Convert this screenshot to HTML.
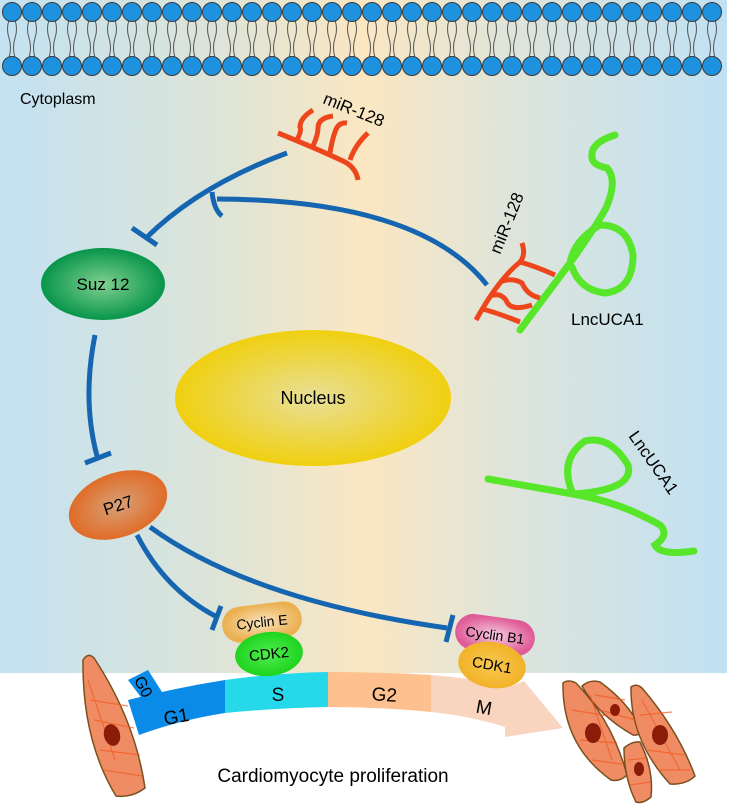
<!DOCTYPE html>
<html><head><meta charset="utf-8"><style>
html,body{margin:0;padding:0;background:#fff;}
svg{display:block;font-family:"Liberation Sans",Arial,sans-serif;}
</style></head><body>
<svg width="731" height="806" viewBox="0 0 731 806" xmlns="http://www.w3.org/2000/svg">
<defs>
<linearGradient id="bg" x1="0" y1="0" x2="1" y2="0">
<stop offset="0" stop-color="#c3e2f2"/><stop offset="0.3" stop-color="#dde4d8"/>
<stop offset="0.5" stop-color="#fbe7c2"/><stop offset="0.72" stop-color="#dce4dc"/>
<stop offset="1" stop-color="#c0e1f3"/></linearGradient>
<radialGradient id="nuc"><stop offset="0" stop-color="#e8df98"/><stop offset="1" stop-color="#f0d010"/></radialGradient>
<radialGradient id="suz"><stop offset="0" stop-color="#80d090"/><stop offset="1" stop-color="#07954a"/></radialGradient>
<radialGradient id="p27"><stop offset="0" stop-color="#d8a078"/><stop offset="1" stop-color="#e06c28"/></radialGradient>
<radialGradient id="ce"><stop offset="0" stop-color="#f8e4c0"/><stop offset="1" stop-color="#ebb050"/></radialGradient>
<radialGradient id="cdk2"><stop offset="0" stop-color="#50ec50"/><stop offset="1" stop-color="#1ed41e"/></radialGradient>
<radialGradient id="cb1"><stop offset="0" stop-color="#f6cce0"/><stop offset="1" stop-color="#e05c98"/></radialGradient>
<radialGradient id="cdk1"><stop offset="0" stop-color="#f8c850"/><stop offset="1" stop-color="#f2b228"/></radialGradient>
</defs>
<rect x="0" y="0" width="727" height="673" fill="url(#bg)"/>

<!-- connectors -->
<g stroke="#1565b0" stroke-width="5" fill="none" stroke-linecap="butt">
<path d="M287,153 Q200,185 147,237"/><path d="M132,228 L157,245"/>
<path d="M487,285 Q420,200 217,199"/><path d="M212,192 Q214,210 222,216"/>
<path d="M95,335 Q82,400 97,456"/><path d="M85,463 L111,453"/>
<path d="M137,535 Q165,590 217,617"/><path d="M221,606 L212,630"/>
<path d="M150,527 Q250,600 447,628"/><path d="M453,615 L446,642"/>
</g>

<!-- nucleus & nodes -->
<ellipse cx="313" cy="398" rx="138" ry="68" fill="url(#nuc)"/>
<text x="313" y="404" font-size="18" text-anchor="middle">Nucleus</text>
<ellipse cx="103" cy="284" rx="62" ry="36" fill="url(#suz)"/>
<text x="103" y="290" font-size="17" text-anchor="middle">Suz 12</text>
<ellipse cx="118" cy="505" rx="51" ry="32" fill="url(#p27)" transform="rotate(-20 118 505)"/>
<text x="118" y="511" font-size="17" text-anchor="middle" transform="rotate(-18 118 505)">P27</text>

<!-- miR-128 top -->
<g stroke="#ee461c" stroke-width="5" fill="none">
<path d="M278,133 Q320,150 345,162 Q356,168 358,180"/>
<path d="M297,140 Q302,130 300,127 Q300,118 313,110"/>
<path d="M313,146 Q318,135 318,128 Q318,118 333,116"/>
<path d="M330,153 Q332,140 335,132 Q338,122 347,123"/>
<path d="M350,160 Q355,145 368,133"/>
</g>
<text x="322" y="103" font-size="17" transform="rotate(22 322 103)">miR-128</text>

<!-- green Lnc top right -->
<g stroke="#58e62a" stroke-width="7" fill="none" stroke-linecap="round">
<path d="M520,330 L570,263 Q595,228 606,208 Q618,180 607,168 Q592,165 592,157 Q590,143 615,135"/>
<path d="M570,263 Q574,240 600,225 Q628,225 633,255 Q633,290 605,293 Q580,290 572,267"/>
</g>
<!-- miR-128 right -->
<g stroke="#ee461c" stroke-width="5" fill="none">
<path d="M476,320 Q498,280 520,262 Q526,255 522,243"/>
<path d="M520,262 Q535,266 555,275"/>
<path d="M500,282 Q512,277 522,283 Q527,295 540,298"/>
<path d="M490,296 Q500,292 506,300 Q510,312 532,305"/>
<path d="M482,309 Q495,312 520,322"/>
</g>
<text x="500" y="255" font-size="17" transform="rotate(-68 500 255)">miR-128</text>
<text x="571" y="325" font-size="17">LncUCA1</text>

<!-- green Lnc lower -->
<g stroke="#58e62a" stroke-width="7" fill="none" stroke-linecap="round">
<path d="M488,479 Q540,488 573,494 Q620,502 660,525 Q670,535 655,545 Q660,556 694,551"/>
<path d="M573,494 Q558,460 585,441 Q610,435 628,465 Q635,490 573,494"/>
</g>
<text x="628" y="436" font-size="17" transform="rotate(55 628 436)">LncUCA1</text>

<!-- cell cycle band -->
<polygon points="128,680 148,670 162,692 143,700" fill="#0a8be8"/>
<path d="M128,700 Q175,688 225,680 L225,713 Q180,720 139,735 Z" fill="#0a8be8"/>
<path d="M225,680 Q275,673 328,672 L328,707 Q275,708 225,713 Z" fill="#26d9ea"/>
<path d="M328,672 Q380,672 431,675 L431,712 Q380,707 328,707 Z" fill="#fdc08e"/>
<path d="M431,675 Q470,678 512,686 L524,681 L563,728 L505,737 L505,727 Q470,716 431,712 Z" fill="#f9d5c0"/>
<text x="143" y="687" font-size="16" transform="rotate(62 143 687)" text-anchor="middle" dy="5">G0</text>
<text x="176" y="723" font-size="19" text-anchor="middle" transform="rotate(-10 176 715)">G1</text>
<text x="278" y="701" font-size="19" text-anchor="middle">S</text>
<text x="384" y="701" font-size="19" text-anchor="middle" transform="rotate(4 384 700)">G2</text>
<text x="484" y="714" font-size="19" text-anchor="middle" transform="rotate(10 484 708)">M</text>
<text x="333" y="782" font-size="19" text-anchor="middle">Cardiomyocyte proliferation</text>

<!-- cyclins -->
<rect x="222" y="604" width="80" height="36" rx="18" fill="url(#ce)" transform="rotate(-7 262 622)"/>
<text x="262" y="627" font-size="14" text-anchor="middle" transform="rotate(-6 262 622)">Cyclin E</text>
<ellipse cx="269" cy="654" rx="34" ry="22" fill="url(#cdk2)" transform="rotate(-6 269 654)"/>
<text x="269" y="659" font-size="15" text-anchor="middle" transform="rotate(-6 269 654)">CDK2</text>
<rect x="455" y="617" width="80" height="36" rx="18" fill="url(#cb1)" transform="rotate(8 495 635)"/>
<text x="495" y="640" font-size="14" text-anchor="middle" transform="rotate(8 495 635)">Cyclin B1</text>
<ellipse cx="492" cy="665" rx="34" ry="23" fill="url(#cdk1)" transform="rotate(10 492 665)"/>
<text x="492" y="670" font-size="15" text-anchor="middle" transform="rotate(10 492 665)">CDK1</text>

<!-- cardiomyocytes -->
<g fill="#ef8c64" stroke="#7a5020" stroke-width="1.5">
<path d="M83,660 Q88,652 94,658 Q135,720 145,788 Q132,798 116,796 Q82,740 83,660 Z"/>
<path d="M563,683 Q568,679 576,683 Q612,720 627,775 Q620,782 611,780 Q562,745 563,683 Z"/>
<path d="M582,686 Q590,679 600,682 Q628,702 642,730 Q640,736 633,735 Q598,715 582,686 Z"/>
<path d="M631,687 Q636,683 642,688 Q678,730 695,776 Q686,785 670,784 Q630,740 631,687 Z"/>
<path d="M624,748 Q632,741 640,742 Q654,770 651,797 Q643,804 636,802 Q624,778 624,748 Z"/>
</g>
<g stroke="#f4581f" stroke-width="1.2" opacity="0.7" fill="none">
<path d="M90,700 L128,706 M94,720 L134,728 M100,750 L140,755 M104,770 L142,776 M88,680 L115,760"/>
<path d="M572,710 L608,716 M580,740 L617,743 M592,760 L622,764 M590,695 L612,760"/>
<path d="M595,695 L625,700 M600,710 L635,720"/>
<path d="M640,715 L672,712 M648,750 L684,755 M658,770 L690,770 M642,700 L680,770"/>
<path d="M628,760 L648,758 M630,785 L650,782"/>
</g>
<g fill="#8a1c08">
<ellipse cx="112" cy="735" rx="8" ry="11" transform="rotate(-15 112 735)"/>
<ellipse cx="593" cy="733" rx="8" ry="10"/>
<ellipse cx="615" cy="710" rx="5" ry="6"/>
<ellipse cx="660" cy="735" rx="8" ry="10"/>
<ellipse cx="639" cy="769" rx="5" ry="7"/>
</g>

<text x="20" y="104" font-size="16">Cytoplasm</text>

<!-- membrane -->
<g stroke="#555" stroke-width="1" fill="none">
<path d="M9,20 q-3,9 0,18 q3,9 0,20 M15,20 q3,9 0,18 q-3,9 0,20 M29,20 q-3,9 0,18 q3,9 0,20 M35,20 q3,9 0,18 q-3,9 0,20 M49,20 q-3,9 0,18 q3,9 0,20 M55,20 q3,9 0,18 q-3,9 0,20 M69,20 q-3,9 0,18 q3,9 0,20 M75,20 q3,9 0,18 q-3,9 0,20 M89,20 q-3,9 0,18 q3,9 0,20 M95,20 q3,9 0,18 q-3,9 0,20 M109,20 q-3,9 0,18 q3,9 0,20 M115,20 q3,9 0,18 q-3,9 0,20 M129,20 q-3,9 0,18 q3,9 0,20 M135,20 q3,9 0,18 q-3,9 0,20 M149,20 q-3,9 0,18 q3,9 0,20 M155,20 q3,9 0,18 q-3,9 0,20 M169,20 q-3,9 0,18 q3,9 0,20 M175,20 q3,9 0,18 q-3,9 0,20 M189,20 q-3,9 0,18 q3,9 0,20 M195,20 q3,9 0,18 q-3,9 0,20 M209,20 q-3,9 0,18 q3,9 0,20 M215,20 q3,9 0,18 q-3,9 0,20 M229,20 q-3,9 0,18 q3,9 0,20 M235,20 q3,9 0,18 q-3,9 0,20 M249,20 q-3,9 0,18 q3,9 0,20 M255,20 q3,9 0,18 q-3,9 0,20 M269,20 q-3,9 0,18 q3,9 0,20 M275,20 q3,9 0,18 q-3,9 0,20 M289,20 q-3,9 0,18 q3,9 0,20 M295,20 q3,9 0,18 q-3,9 0,20 M309,20 q-3,9 0,18 q3,9 0,20 M315,20 q3,9 0,18 q-3,9 0,20 M329,20 q-3,9 0,18 q3,9 0,20 M335,20 q3,9 0,18 q-3,9 0,20 M349,20 q-3,9 0,18 q3,9 0,20 M355,20 q3,9 0,18 q-3,9 0,20 M369,20 q-3,9 0,18 q3,9 0,20 M375,20 q3,9 0,18 q-3,9 0,20 M389,20 q-3,9 0,18 q3,9 0,20 M395,20 q3,9 0,18 q-3,9 0,20 M409,20 q-3,9 0,18 q3,9 0,20 M415,20 q3,9 0,18 q-3,9 0,20 M429,20 q-3,9 0,18 q3,9 0,20 M435,20 q3,9 0,18 q-3,9 0,20 M449,20 q-3,9 0,18 q3,9 0,20 M455,20 q3,9 0,18 q-3,9 0,20 M469,20 q-3,9 0,18 q3,9 0,20 M475,20 q3,9 0,18 q-3,9 0,20 M489,20 q-3,9 0,18 q3,9 0,20 M495,20 q3,9 0,18 q-3,9 0,20 M509,20 q-3,9 0,18 q3,9 0,20 M515,20 q3,9 0,18 q-3,9 0,20 M529,20 q-3,9 0,18 q3,9 0,20 M535,20 q3,9 0,18 q-3,9 0,20 M549,20 q-3,9 0,18 q3,9 0,20 M555,20 q3,9 0,18 q-3,9 0,20 M569,20 q-3,9 0,18 q3,9 0,20 M575,20 q3,9 0,18 q-3,9 0,20 M589,20 q-3,9 0,18 q3,9 0,20 M595,20 q3,9 0,18 q-3,9 0,20 M609,20 q-3,9 0,18 q3,9 0,20 M615,20 q3,9 0,18 q-3,9 0,20 M629,20 q-3,9 0,18 q3,9 0,20 M635,20 q3,9 0,18 q-3,9 0,20 M649,20 q-3,9 0,18 q3,9 0,20 M655,20 q3,9 0,18 q-3,9 0,20 M669,20 q-3,9 0,18 q3,9 0,20 M675,20 q3,9 0,18 q-3,9 0,20 M689,20 q-3,9 0,18 q3,9 0,20 M695,20 q3,9 0,18 q-3,9 0,20 M709,20 q-3,9 0,18 q3,9 0,20 M715,20 q3,9 0,18 q-3,9 0,20"/>
</g>
<g fill="#1e92de" stroke="#3a3a3a" stroke-width="1">
<circle cx="12" cy="12" r="9.5"/><circle cx="32" cy="12" r="9.5"/><circle cx="52" cy="12" r="9.5"/><circle cx="72" cy="12" r="9.5"/><circle cx="92" cy="12" r="9.5"/><circle cx="112" cy="12" r="9.5"/><circle cx="132" cy="12" r="9.5"/><circle cx="152" cy="12" r="9.5"/><circle cx="172" cy="12" r="9.5"/><circle cx="192" cy="12" r="9.5"/><circle cx="212" cy="12" r="9.5"/><circle cx="232" cy="12" r="9.5"/><circle cx="252" cy="12" r="9.5"/><circle cx="272" cy="12" r="9.5"/><circle cx="292" cy="12" r="9.5"/><circle cx="312" cy="12" r="9.5"/><circle cx="332" cy="12" r="9.5"/><circle cx="352" cy="12" r="9.5"/><circle cx="372" cy="12" r="9.5"/><circle cx="392" cy="12" r="9.5"/><circle cx="412" cy="12" r="9.5"/><circle cx="432" cy="12" r="9.5"/><circle cx="452" cy="12" r="9.5"/><circle cx="472" cy="12" r="9.5"/><circle cx="492" cy="12" r="9.5"/><circle cx="512" cy="12" r="9.5"/><circle cx="532" cy="12" r="9.5"/><circle cx="552" cy="12" r="9.5"/><circle cx="572" cy="12" r="9.5"/><circle cx="592" cy="12" r="9.5"/><circle cx="612" cy="12" r="9.5"/><circle cx="632" cy="12" r="9.5"/><circle cx="652" cy="12" r="9.5"/><circle cx="672" cy="12" r="9.5"/><circle cx="692" cy="12" r="9.5"/><circle cx="712" cy="12" r="9.5"/>
<circle cx="12" cy="66" r="9.5"/><circle cx="32" cy="66" r="9.5"/><circle cx="52" cy="66" r="9.5"/><circle cx="72" cy="66" r="9.5"/><circle cx="92" cy="66" r="9.5"/><circle cx="112" cy="66" r="9.5"/><circle cx="132" cy="66" r="9.5"/><circle cx="152" cy="66" r="9.5"/><circle cx="172" cy="66" r="9.5"/><circle cx="192" cy="66" r="9.5"/><circle cx="212" cy="66" r="9.5"/><circle cx="232" cy="66" r="9.5"/><circle cx="252" cy="66" r="9.5"/><circle cx="272" cy="66" r="9.5"/><circle cx="292" cy="66" r="9.5"/><circle cx="312" cy="66" r="9.5"/><circle cx="332" cy="66" r="9.5"/><circle cx="352" cy="66" r="9.5"/><circle cx="372" cy="66" r="9.5"/><circle cx="392" cy="66" r="9.5"/><circle cx="412" cy="66" r="9.5"/><circle cx="432" cy="66" r="9.5"/><circle cx="452" cy="66" r="9.5"/><circle cx="472" cy="66" r="9.5"/><circle cx="492" cy="66" r="9.5"/><circle cx="512" cy="66" r="9.5"/><circle cx="532" cy="66" r="9.5"/><circle cx="552" cy="66" r="9.5"/><circle cx="572" cy="66" r="9.5"/><circle cx="592" cy="66" r="9.5"/><circle cx="612" cy="66" r="9.5"/><circle cx="632" cy="66" r="9.5"/><circle cx="652" cy="66" r="9.5"/><circle cx="672" cy="66" r="9.5"/><circle cx="692" cy="66" r="9.5"/><circle cx="712" cy="66" r="9.5"/>
</g>
</svg>
</body></html>
